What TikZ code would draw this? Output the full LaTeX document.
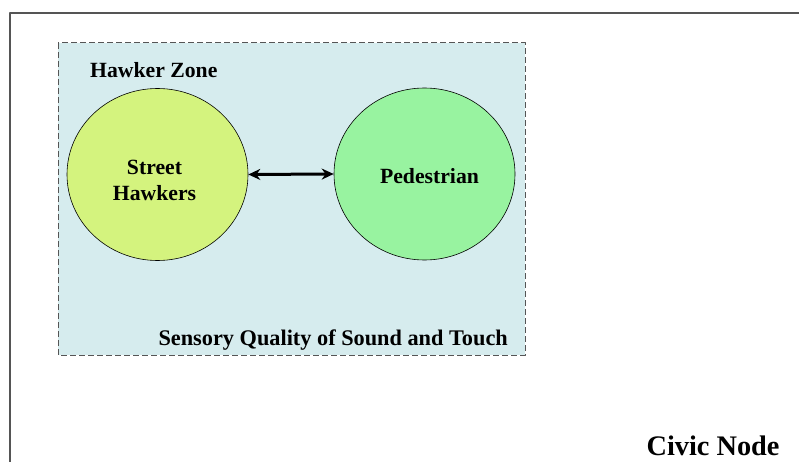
\documentclass[tikz,border=0pt]{standalone}
\usepackage{fontspec}
\setmainfont{Liberation Serif}
\usetikzlibrary{shapes.geometric,arrows.meta}
\definecolor{zonefill}{RGB}{214,236,238}
\definecolor{hawkfill}{RGB}{212,243,126}
\definecolor{pedfill}{RGB}{152,243,160}
\definecolor{framegray}{RGB}{85,85,85}

\begin{document}
\begin{tikzpicture}[x=1pt,y=-1pt,>={Stealth[length=12pt,width=11pt]}, font=\bfseries\fontsize{21.7}{26}\selectfont, line join=round, line cap=round]
	\def\xmin{0} \def\xmax{799} \def\ymin{0} \def\ymax{462}
	\useasboundingbox (\xmin,\ymin) rectangle (\xmax,\ymax);
	\tikzset{actor/.style={ellipse, draw=black, line width=0.6pt, minimum width=181pt, minimum height=172pt, inner sep=0pt}}
	% outer frame of the civic node
	\draw[framegray, line width=1.5pt, line cap=butt] (10,\ymax+2)--(10,13)--(\xmax+2,13);
	\node[anchor=base east, font=\bfseries\fontsize{28.3}{32}\selectfont] (civic) at (783,455) {Civic Node};
	% hawker zone
	\draw[framegray, fill=zonefill, line width=1pt, dash pattern=on 6pt off 3pt, line cap=butt] (58,43) rectangle (525,355);
	\node[anchor=base west, inner sep=0pt] (zone) at (90,78) {Hawker Zone};
	\node[anchor=base east, inner sep=0pt, font=\bfseries\fontsize{22.3}{26}\selectfont] (sense) at (508,345) {Sensory Quality of Sound and Touch};
	\node[actor, fill=hawkfill] (hawkers) at (157.5,174.5) {};
	\node[actor, fill=pedfill] (walker) at (424.5,174) {};
	\node[align=center, inner sep=0pt] (hawkerslbl) at ([xshift=-3pt,yshift=-6pt]hawkers.center) {Street\\Hawkers};
	\node[inner sep=0pt] (walkerlbl) at ([xshift=5pt,yshift=-2pt]walker.center) {Pedestrian};
	\draw[<->, line width=3pt] (hawkers.east)--(walker.west);
\end{tikzpicture}
\end{document}
